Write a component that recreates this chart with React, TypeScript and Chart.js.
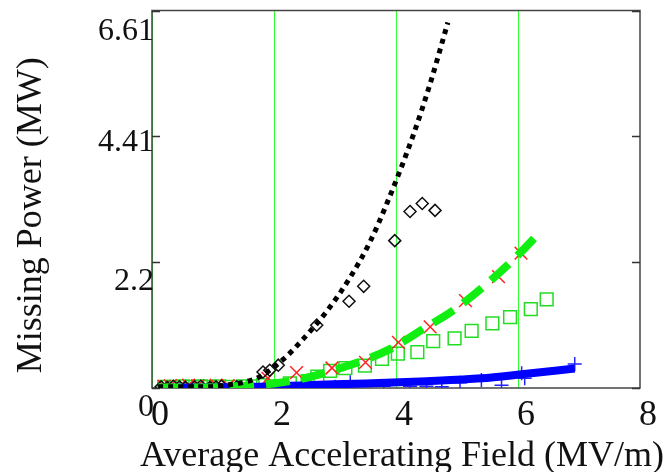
import React, { useEffect, useRef } from 'react';
import { Chart, registerables } from 'chart.js';

Chart.register(...registerables);

// ---- axis ticks / titles ----
const X_TICKS = [0, 2, 4, 6, 8];
const Y_TICKS = [0, 2.2, 4.41, 6.61];
const Y_TICK_LABELS = ['0', '2.2', '4.41', '6.61'];
const X_TITLE = 'Average Accelerating Field (MV/m)';
const Y_TITLE = 'Missing Power (MW)';

// ---- fitted curves ----
const BLACK_FIT_X = [0.1, 0.5, 0.9, 1.2, 1.5, 1.77, 2.15, 2.48, 2.87, 3.25, 3.57, 3.85, 4.28, 4.56, 4.85];
const BLACK_FIT_Y = [0.02, 0.02, 0.02, 0.05, 0.1, 0.2, 0.5, 0.86, 1.35, 1.94, 2.55, 3.23, 4.42, 5.33, 6.4];

const GREEN_FIT_X = [0.1, 0.8, 1.4, 2.0, 2.4, 2.75, 3.03, 3.41, 3.9, 4.5, 4.9, 5.43, 6.03, 6.36];
const GREEN_FIT_Y = [0.01, 0.01, 0.03, 0.08, 0.15, 0.24, 0.33, 0.46, 0.68, 1.07, 1.33, 1.77, 2.36, 2.73];

const BLUE_FIT_X = [0.1, 1.0, 1.7, 2.5, 3.5, 4.5, 5.4, 6.06, 6.93];
const BLUE_FIT_Y = [0.0, 0.01, 0.02, 0.05, 0.08, 0.12, 0.17, 0.24, 0.34];

// ---- measured points ----
const DIAMOND_X = [0.15, 0.25, 0.35, 0.45, 0.55, 0.7, 0.8, 0.95, 1.05, 1.14, 1.39, 1.82, 1.93, 2.07, 2.7, 3.23, 3.47, 3.98, 4.23, 4.43, 4.64];
const DIAMOND_Y = [0.02, 0.01, 0.03, 0.02, 0.01, 0.02, 0.03, 0.01, 0.02, 0.03, 0.02, 0.28, 0.31, 0.4, 1.1, 1.52, 1.78, 2.58, 3.09, 3.23, 3.11];

const CROSS_X = [0.2, 0.3, 0.45, 0.6, 0.75, 0.9, 1.05, 1.25, 1.9, 2.37, 2.95, 3.5, 4.04, 4.56, 5.14, 5.68, 6.05];
const CROSS_Y = [0.03, 0.04, 0.03, 0.05, 0.04, 0.03, 0.05, 0.04, 0.17, 0.27, 0.35, 0.45, 0.8, 1.07, 1.53, 1.95, 2.36];

const SQUARE_X = [0.2, 0.35, 0.5, 0.65, 0.8, 0.95, 1.1, 1.3, 1.5, 1.65, 1.82, 1.96, 2.26, 2.55, 2.71, 2.92, 3.17, 3.49, 3.77, 4.03, 4.35, 4.61, 4.96, 5.24, 5.58, 5.87, 6.21, 6.47];
const SQUARE_Y = [0.02, 0.02, 0.03, 0.02, 0.03, 0.02, 0.03, 0.02, 0.03, 0.03, 0.05, 0.03, 0.08, 0.12, 0.2, 0.3, 0.35, 0.39, 0.51, 0.6, 0.63, 0.82, 0.87, 1.0, 1.13, 1.24, 1.38, 1.55];

const PLUS_X = [2.0, 2.5, 3.0, 3.25, 3.8, 4.23, 4.5, 4.75, 5.05, 5.4, 5.73, 6.06, 6.11, 6.93];
const PLUS_Y = [0.01, 0.02, 0.02, 0.1, 0.03, 0.03, 0.03, 0.02, 0.09, 0.14, 0.05, 0.26, 0.17, 0.42];

const SERIF = "'Liberation Serif', 'Times New Roman', serif";

const zip = (xs: number[], ys: number[]) => xs.map((x, i) => ({ x, y: ys[i] }));

const framePlugin = {
  id: 'mathcadFrame',
  beforeDatasetsDraw(chart: any) {
    const { ctx, chartArea: a, scales } = chart;
    const ys = scales.y;
    ctx.save();
    ctx.strokeStyle = '#444';
    ctx.lineWidth = 1.5;
    ctx.strokeRect(a.left, a.top, a.right - a.left, a.bottom - a.top);
    ctx.strokeStyle = '#333';
    Y_TICKS.forEach((v) => {
      const py = Math.round(ys.getPixelForValue(v)) + 0.5;
      ctx.beginPath();
      ctx.moveTo(a.left, py);
      ctx.lineTo(a.left + 8, py);
      ctx.moveTo(a.right, py);
      ctx.lineTo(a.right - 8, py);
      ctx.stroke();
    });
    ctx.restore();
  },
  afterDraw(chart: any) {
    const { ctx, chartArea: a, scales } = chart;
    const ys = scales.y;
    const shift = [20, 19, 6, 21];
    ctx.save();
    ctx.font = `32px ${SERIF}`;
    ctx.fillStyle = '#111';
    ctx.textAlign = 'right';
    ctx.textBaseline = 'middle';
    Y_TICKS.forEach((v, i) => {
      ctx.fillText(Y_TICK_LABELS[i], a.left + 2, ys.getPixelForValue(v) + shift[i]);
    });
    // x-axis title (drawn without width clamping)
    ctx.font = `36px ${SERIF}`;
    ctx.textAlign = 'center';
    ctx.textBaseline = 'alphabetic';
    ctx.fillText(X_TITLE, (a.left + a.right) / 2 + 6, chart.height - 6);
    // y-axis title
    ctx.translate(32, (a.top + a.bottom) / 2 + 16);
    ctx.rotate(-Math.PI / 2);
    ctx.textBaseline = 'middle';
    ctx.fillText(Y_TITLE, 0, 0);
    ctx.restore();
  },
};

export default function App() {
  const ref = useRef<HTMLCanvasElement>(null);
  useEffect(() => {
    if (!ref.current) return;
    const chart = new Chart(ref.current, {
      type: 'scatter',
      data: {
        datasets: [
          {
            type: 'line',
            data: zip(BLACK_FIT_X, BLACK_FIT_Y),
            borderColor: '#000',
            borderWidth: 5,
            borderDash: [5, 5],
            borderCapStyle: 'butt',
            pointRadius: 0,
            cubicInterpolationMode: 'monotone',
            fill: false,
            order: 0,
          },
          {
            type: 'line',
            data: zip(GREEN_FIT_X, GREEN_FIT_Y),
            borderColor: '#11ee11',
            borderWidth: 8,
            borderDash: [24, 12],
            borderCapStyle: 'butt',
            pointRadius: 0,
            cubicInterpolationMode: 'monotone',
            fill: false,
            order: 0,
          },
          {
            type: 'line',
            data: zip(BLUE_FIT_X, BLUE_FIT_Y),
            borderColor: '#0000ff',
            borderWidth: 8,
            pointRadius: 0,
            cubicInterpolationMode: 'monotone',
            fill: false,
            order: 0,
          },
          {
            data: zip(DIAMOND_X, DIAMOND_Y),
            pointStyle: 'rectRot',
            pointRadius: 6,
            borderColor: '#111',
            backgroundColor: 'rgba(0,0,0,0)',
            borderWidth: 1.5,
            order: 1,
          },
          {
            data: zip(CROSS_X, CROSS_Y),
            pointStyle: 'crossRot',
            pointRadius: 9,
            borderColor: '#ff2222',
            backgroundColor: 'rgba(0,0,0,0)',
            borderWidth: 1.5,
            order: 1,
          },
          {
            data: zip(SQUARE_X, SQUARE_Y),
            pointStyle: 'rect',
            pointRadius: 9,
            borderColor: '#22dd22',
            backgroundColor: 'rgba(0,0,0,0)',
            borderWidth: 1.5,
            order: 1,
          },
          {
            data: zip(PLUS_X, PLUS_Y),
            pointStyle: 'cross',
            pointRadius: 7,
            borderColor: '#2222ff',
            backgroundColor: 'rgba(0,0,0,0)',
            borderWidth: 1.5,
            order: 1,
          },
        ],
      } as any,
      options: {
        animation: false,
        responsive: false,
        layout: { padding: { top: 10, right: 32, left: 0, bottom: 0 } },
        plugins: { legend: { display: false }, tooltip: { enabled: false } },
        scales: {
          x: {
            type: 'linear',
            min: 0,
            max: 8,
            afterBuildTicks: (s: any) => {
              s.ticks = X_TICKS.map((v) => ({ value: v }));
            },
            afterFit: (s: any) => {
              s.height = 84;
              s.paddingLeft = 0;
              s.paddingRight = 0;
            },
            border: { display: false },
            grid: {
              drawTicks: false,
              lineWidth: 1,
              color: (c: any) => (c.tick && c.tick.value < 8 ? '#33ff33' : 'rgba(0,0,0,0)'),
            },
            ticks: {
              padding: 6,
              labelOffset: 8,
              maxRotation: 0,
              color: '#111',
              font: { family: SERIF, size: 36 },
              callback: (v: any) => String(v),
            },
            title: { display: false },
          },
          y: {
            type: 'linear',
            min: 0,
            max: 6.61,
            afterBuildTicks: (s: any) => {
              s.ticks = Y_TICKS.map((v) => ({ value: v }));
            },
            afterFit: (s: any) => {
              s.width = 152;
              s.paddingTop = 0;
              s.paddingBottom = 0;
            },
            border: { display: false },
            grid: { display: false },
            ticks: { display: false },
            title: { display: false },
          },
        },
      } as any,
      plugins: [framePlugin],
    });
    return () => chart.destroy();
  }, []);
  return (
    <div style={{ position: 'absolute', left: 0, top: 0, width: 672, height: 472, background: '#fff' }}>
      <canvas ref={ref} width={672} height={472} style={{ display: 'block' }} />
    </div>
  );
}
